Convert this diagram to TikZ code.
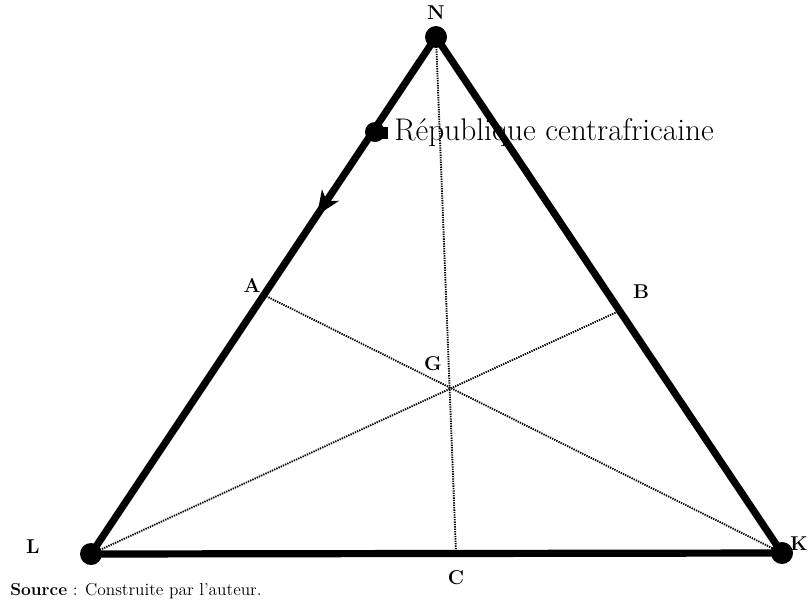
\documentclass[tikz,border=0pt]{standalone}
\usetikzlibrary{decorations.markings,arrows.meta}

\begin{document}
\begin{tikzpicture}[x=0.75pt, y=-0.75pt,
  vertex/.style={circle, fill=black, inner sep=0pt, minimum size=16.5pt},
  side/.style={line width=5.4pt, line cap=round},
  median/.style={line width=1.4pt, dash pattern=on 1pt off 0.8pt},
  lab/.style={font=\bfseries\fontsize{15}{17}\selectfont, inner sep=0pt},
  midarrow/.style={postaction={decorate, decoration={markings,
    mark=at position 0.345 with {\arrow{Stealth[length=18pt, width=15pt, inset=5pt]}}}}}
]
\useasboundingbox (0,0) rectangle (809,607);

% sommets
\node[vertex] (N) at (436,37) {};
\node[vertex] (L) at (91,554) {};
\node[vertex] (K) at (782,553) {};
\coordinate (A) at (262,294);
\coordinate (B) at (619,311);
\coordinate (C) at (456,553);
\coordinate (G) at (451,388);

% medianes
\draw[median] (A) -- (K.center);
\draw[median] (L.center) -- (B);
\draw[median] (N.center) -- (C);

% cotes
\draw[side, midarrow] (N.center) -- (L.center);
\draw[side] (N.center) -- (K.center);
\draw[side] (L.center) -- (K.center);

% point RCA
\node[circle, fill=black, inner sep=0pt, minimum size=15pt] (rca) at (375,132) {};
\node[fill=black, inner sep=0pt, minimum size=9pt] (rcasq) at (382,133) {};
\node[anchor=west, font=\fontsize{23.5}{26}\selectfont, inner sep=0pt] (rcatxt) at (394,133) {République centrafricaine};

% etiquettes
\node[lab] (labN) at (436,13) {N};
\node[lab] (labA) at (252,285) {A};
\node[lab] (labB) at (641,292) {B};
\node[lab] (labG) at (433,364) {G};
\node[lab] (labC) at (456,578) {C};
\node[lab] (labL) at (33,547) {L};
\node[lab] (labK) at (799,544) {K};

\node[anchor=west, inner sep=0pt, font=\fontsize{13}{15}\selectfont] (src) at (10,591) {\textbf{Source} : Construite par l'auteur.};
\end{tikzpicture}
\end{document}
